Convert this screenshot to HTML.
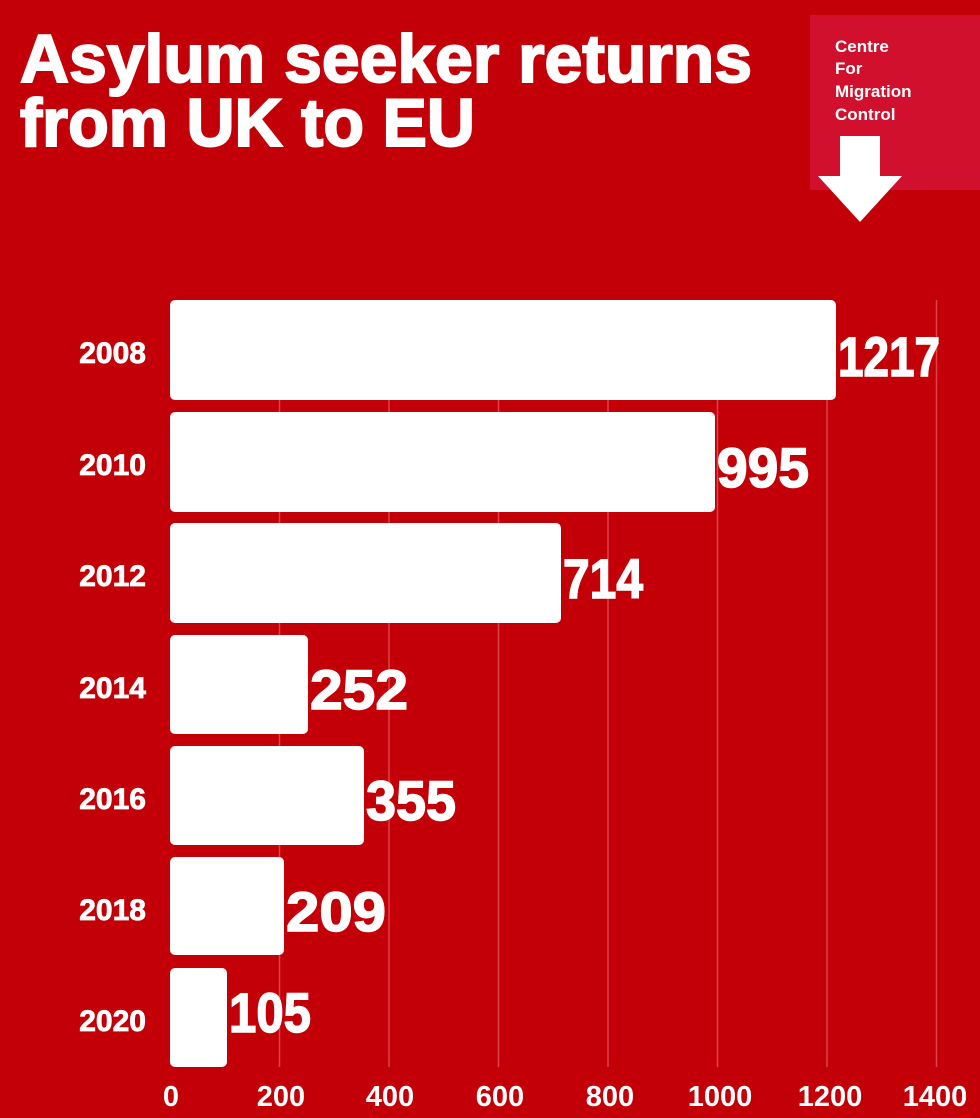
<!DOCTYPE html>
<html><head><meta charset="utf-8"><style>
html,body{margin:0;padding:0;background:#c30008;}
svg{display:block}
text{font-family:"Liberation Sans",Arial,sans-serif;font-weight:bold;fill:#fff}
</style></head><body>
<svg width="980" height="1118" viewBox="0 0 980 1118" xmlns="http://www.w3.org/2000/svg">
<rect width="980" height="1118" fill="#c30008"/>
<text x="20" y="82" font-size="68" textLength="732" lengthAdjust="spacingAndGlyphs" stroke="#fff" stroke-width="2">Asylum seeker returns</text>
<text x="20" y="146" font-size="68" textLength="455" lengthAdjust="spacingAndGlyphs" stroke="#fff" stroke-width="2">from UK to EU</text>
<rect x="810" y="15" width="170" height="175" fill="#d0102c"/>
<text x="835" y="52" font-size="17">Centre</text>
<text x="835" y="74" font-size="17">For</text>
<text x="835" y="97" font-size="17">Migration</text>
<text x="835" y="120" font-size="17">Control</text>
<polygon points="840,136 880,136 880,176 902,176 860,222 818,176 840,176" fill="#fff"/>
<g stroke="#e0404a" stroke-width="1.5">
<line x1="279.5" y1="300" x2="279.5" y2="1067"/>
<line x1="389" y1="300" x2="389" y2="1067"/>
<line x1="498.5" y1="300" x2="498.5" y2="1067"/>
<line x1="608" y1="300" x2="608" y2="1067"/>
<line x1="717.5" y1="300" x2="717.5" y2="1067"/>
<line x1="827" y1="300" x2="827" y2="1067"/>
<line x1="936.5" y1="300" x2="936.5" y2="1067"/>
</g>
<g fill="#fff">
<rect x="170" y="300" width="666" height="100" rx="5"/>
<rect x="170" y="412" width="545" height="100" rx="5"/>
<rect x="170" y="523" width="391" height="100" rx="5"/>
<rect x="170" y="635" width="138" height="99" rx="5"/>
<rect x="170" y="746" width="194" height="99" rx="5"/>
<rect x="170" y="857" width="114" height="98" rx="5"/>
<rect x="170" y="968" width="57" height="99" rx="5"/>
</g>
<g font-size="56" stroke="#fff" stroke-width="1.5">
<text x="838" y="376" textLength="102" lengthAdjust="spacingAndGlyphs">1217</text>
<text x="717" y="487" textLength="92" lengthAdjust="spacingAndGlyphs">995</text>
<text x="563" y="598" textLength="80" lengthAdjust="spacingAndGlyphs">714</text>
<text x="310" y="709" textLength="98" lengthAdjust="spacingAndGlyphs">252</text>
<text x="366" y="820" textLength="90" lengthAdjust="spacingAndGlyphs">355</text>
<text x="286" y="931" textLength="100" lengthAdjust="spacingAndGlyphs">209</text>
<text x="229" y="1032" textLength="82" lengthAdjust="spacingAndGlyphs">105</text>
</g>
<g font-size="30" text-anchor="end" stroke="#fff" stroke-width="0.8">
<text x="146" y="363">2008</text>
<text x="146" y="475">2010</text>
<text x="146" y="586">2012</text>
<text x="146" y="698">2014</text>
<text x="146" y="809">2016</text>
<text x="146" y="920">2018</text>
<text x="146" y="1031">2020</text>
</g>
<g font-size="29" text-anchor="middle">
<text x="171" y="1106">0</text>
<text x="281" y="1106">200</text>
<text x="390" y="1106">400</text>
<text x="500" y="1106">600</text>
<text x="610" y="1106">800</text>
<text x="720" y="1106">1000</text>
<text x="830" y="1106">1200</text>
<text x="935" y="1106">1400</text>
</g>
</svg>
</body></html>
